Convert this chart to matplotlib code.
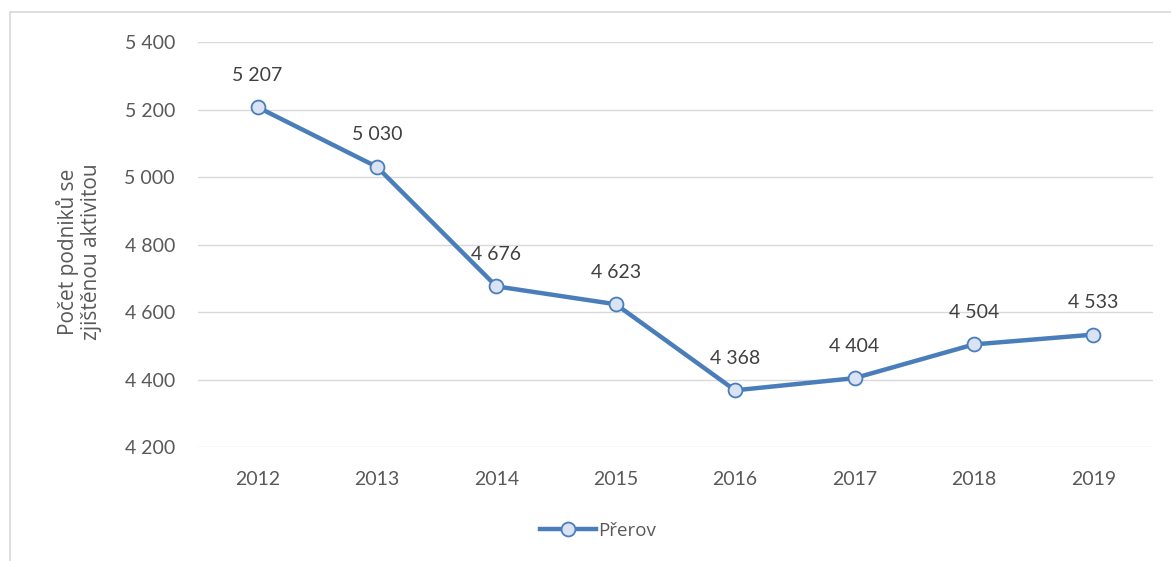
import matplotlib.pyplot as plt
from matplotlib.patches import Rectangle

years = ['2012', '2013', '2014', '2015', '2016', '2017', '2018', '2019']
values = [5207, 5030, 4676, 4623, 4368, 4404, 4504, 4533]
yticks = [4200, 4400, 4600, 4800, 5000, 5200, 5400]

blue = '#4A7EBB'
text_col = '#595959'


def fmt(v):
    return f'{v:,}'.replace(',', ' ')


plt.rcParams['font.family'] = ['Lato', 'DejaVu Sans']

fig = plt.figure(figsize=(11.71, 5.61), dpi=100)
ax = fig.add_axes([0.169, 0.2032, 0.8156, 0.7219])

x = list(range(len(years)))
ax.plot(x, values, color=blue, lw=3.2, marker='o', ms=10,
        mfc='#DAE3F3', mec=blue, mew=1.3, label='Přerov', zorder=3)

for xi, v in zip(x, values):
    ax.annotate(fmt(v), (xi, v), xytext=(0, 23), textcoords='offset points',
                ha='center', va='center', fontsize=14, color='#404040')

ax.set_xlim(-0.5, len(years) - 0.5)
ax.set_ylim(4200, 5400)
ax.set_xticks(x)
ax.set_xticklabels(years)
ax.set_yticks(yticks)
ax.set_yticklabels([fmt(t) for t in yticks])
ax.tick_params(length=0, labelsize=14, labelcolor=text_col)
ax.tick_params(axis='x', pad=17)
ax.tick_params(axis='y', pad=16.5)
ax.grid(axis='y', color='#D9D9D9', lw=1)
ax.set_axisbelow(True)
for s in ax.spines.values():
    s.set_visible(False)

fig.text(79 / 1171, 1 - 252 / 561, 'Počet podniků se\nzjištěnou aktivitou',
         rotation=90, ha='center', va='center', fontsize=15,
         family=['Open Sans', 'DejaVu Sans'], color=text_col,
         multialignment='center', linespacing=1.1)

fig.legend(loc='center', bbox_to_anchor=(598 / 1171, 1 - 531 / 561),
           frameon=False, prop={'family': ['Open Sans'], 'size': 13.5},
           labelcolor=text_col, handlelength=3.0, handletextpad=0.15)

# chart border (left and top visible)
fig.patches.append(Rectangle((10 / 1171, -0.1), 1.2, 1 - 12 / 561 + 0.1,
                             transform=fig.transFigure, fill=False,
                             edgecolor='#D9D9D9', lw=1.2))

fig.savefig('out.png', dpi=100)
